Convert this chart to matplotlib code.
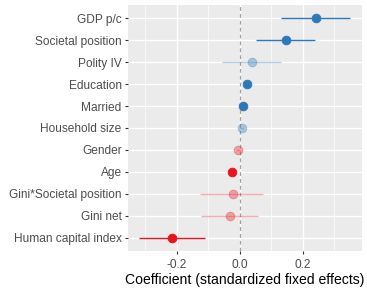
#!/usr/bin/env python3
"""Coefficient plot of standardized fixed effects."""

import matplotlib
matplotlib.use("Agg")
import matplotlib.pyplot as plt
from matplotlib.ticker import MultipleLocator

labels = ["GDP p/c", "Societal position", "Polity IV", "Education", "Married",
          "Household size", "Gender", "Age", "Gini*Societal position", "Gini net",
          "Human capital index"]
estimate = [0.243, 0.148, 0.038, 0.024, 0.011, 0.006, -0.005, -0.024, -0.023, -0.032, -0.216]
ci_low = [0.132, 0.051, -0.058, 0.016, 0.004, -0.001, -0.011, -0.030, -0.127, -0.123, -0.320]
ci_high = [0.351, 0.240, 0.130, 0.032, 0.018, 0.013, 0.001, -0.018, 0.074, 0.058, -0.109]
significant = [True, True, False, True, True, False, False, True, False, False, True]

BLUE = "#2f78b8"
RED = "#e8141c"

plt.rcParams["font.family"] = ["Liberation Sans", "DejaVu Sans"]

fig = plt.figure(figsize=(3.67, 2.89), dpi=100)
ax = fig.add_axes([128 / 367, 1 - 251 / 289, 234 / 367, 246 / 289])
ax.set_facecolor("#ebebeb")
for s in ax.spines.values():
    s.set_visible(False)

n = len(labels)
ys = list(range(n - 1, -1, -1))
for y, est, lo, hi, sig in zip(ys, estimate, ci_low, ci_high, significant):
    col = BLUE if est > 0 else RED
    a = 1.0 if sig else 0.35
    ax.plot([lo, hi], [y, y], color=col, lw=1.0, alpha=a, zorder=3, solid_capstyle="butt")
    ax.plot(est, y, "o", color=col, ms=6.3, mec=col, mew=0.6, alpha=a, zorder=4)

ax.axvline(0, color="#a0a0a0", lw=0.9, ls=(0, (3, 2.5)), zorder=2)

ax.set_xlim(-0.355, 0.388)
ax.set_ylim(-0.6, n - 0.4)
ax.xaxis.set_major_locator(MultipleLocator(0.2))
ax.xaxis.set_minor_locator(MultipleLocator(0.1))
ax.set_xticks([-0.2, 0.0, 0.2])
ax.set_xticklabels(["-0.2", "0.0", "0.2"])
ax.set_yticks(ys)
ax.set_yticklabels(labels)
ax.grid(which="major", color="white", lw=1.0, zorder=0)
ax.grid(which="minor", axis="x", color="white", lw=0.5, zorder=0)
ax.set_axisbelow(True)
ax.tick_params(which="major", length=2.5, width=0.8, color="#333333",
               labelsize=8.6, labelcolor="#4d4d4d", pad=2)
ax.tick_params(axis="x", which="major", pad=3)
ax.tick_params(which="minor", length=0)
ax.set_xlabel("Coefficient (standardized fixed effects)", fontsize=10.1, color="black", labelpad=2)

fig.savefig("out.png", dpi=100)
